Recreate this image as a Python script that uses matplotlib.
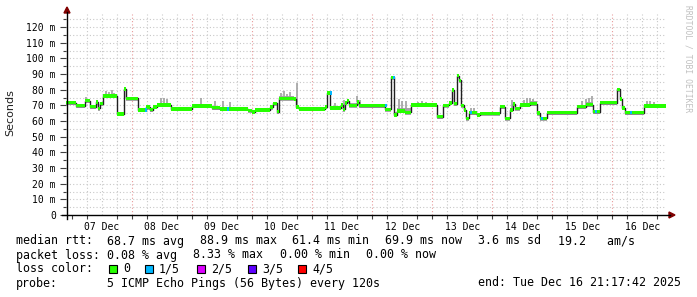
import numpy as np
import matplotlib
matplotlib.use("Agg")
import matplotlib.pyplot as plt
from matplotlib.lines import Line2D
from matplotlib.patches import Rectangle, Polygon

# ---------------- data (hours since 07 Dec 00:00) ----------------
START_H = -2.6
END_H = 237.3
seg_hours = [-2.4, 1.6, 5.2, 7.2, 9.6, 10.4, 11.2, 12.4, 18.0, 20.8, 21.6, 26.4,
             29.6, 31.2, 32.4, 34.0, 39.6, 48.0, 56.0, 59.2, 70.4, 72.0, 73.2,
             79.2, 80.4, 82.0, 82.8, 88.8, 89.6, 90.8, 101.2, 102.0, 103.2,
             107.6, 108.4, 109.2, 110.0, 110.8, 114.0, 114.8, 125.2, 127.6,
             128.8, 130.0, 133.2, 135.6, 146.0, 148.4, 150.8, 152.0, 152.8,
             154.0, 154.8, 155.6, 156.8, 157.6, 158.8, 162.0, 163.2, 171.2,
             173.2, 175.2, 176.4, 177.2, 179.2, 183.2, 186.0, 187.2, 190.0,
             202.0, 205.6, 208.4, 211.2, 218.0, 219.2, 220.0, 221.2, 228.8]
median_ms = [71.7, 69.8, 73.0, 69.2, 72.0, 68.0, 71.0, 76.0, 64.5, 80.5, 74.5, 67.0,
             68.8, 67.2, 69.0, 70.3, 67.8, 69.6, 68.6, 67.8, 66.8, 65.7, 67.0,
             68.8, 71.3, 66.0, 74.5, 74.0, 69.0, 67.6, 69.0, 78.0, 68.3,
             70.2, 67.5, 71.5, 73.0, 70.0, 72.0, 69.8, 67.5, 87.9,
             63.8, 66.5, 65.5, 70.2, 62.7, 70.0, 71.5, 79.8, 71.0,
             89.0, 86.0, 70.0, 67.0, 61.7, 65.3, 63.8, 64.9, 69.1,
             61.7, 67.0, 70.8, 68.0, 70.2, 71.0, 65.0, 61.7, 65.3,
             69.1, 70.5, 66.0, 71.7, 80.2, 74.0, 68.3, 65.3, 69.5]
smoke_max_ms = [72.5, 71.0, 74.0, 70.5, 73.0, 69.0, 72.0, 77.5, 65.5, 81.0, 75.5, 68.0,
                70.0, 68.5, 70.0, 71.5, 68.5, 70.5, 69.8, 68.5, 67.8, 66.8, 68.0,
                70.0, 72.0, 67.0, 76.0, 75.0, 70.0, 68.5, 70.0, 78.5, 69.5,
                71.5, 68.5, 72.5, 74.0, 71.5, 73.0, 70.8, 68.5, 88.5,
                66.0, 68.0, 68.0, 71.0, 63.5, 71.0, 72.5, 80.5, 72.0,
                89.5, 87.0, 71.0, 68.0, 62.5, 66.5, 65.0, 66.0, 70.0,
                62.5, 68.0, 72.0, 69.0, 71.5, 72.5, 66.0, 62.5, 66.3,
                70.2, 72.0, 67.0, 72.5, 80.5, 75.0, 69.0, 66.3, 71.0]
spike_hours = [5.6, 6.8, 13.6, 14.8, 16.0, 16.8, 17.6, 35.6, 36.8, 38.0, 51.6,
               57.2, 60.4, 63.2, 83.6, 84.8, 86.0, 87.2, 90.0, 105.2, 108.8,
               114.0, 115.2, 130.8, 132.0, 133.6, 138.4, 140.0, 141.6, 159.6,
               160.8, 176.0, 180.8, 182.0, 183.2, 184.4, 204.0, 205.6, 206.8,
               208.0, 230.0, 231.2, 232.8]
spike_top_ms = [75.5, 74.0, 79.0, 78.5, 80.0, 78.0, 77.5, 74.5, 75.0, 74.0, 75.0,
                72.5, 72.5, 72.0, 78.0, 79.0, 77.0, 78.5, 84.5, 71.5, 73.5,
                76.0, 73.5, 74.0, 72.5, 73.0, 72.0, 73.0, 72.0, 68.5,
                68.0, 73.5, 73.5, 74.5, 75.0, 74.0, 72.5, 74.0, 75.0,
                76.0, 72.5, 73.0, 72.0]
loss_1of5_hours = [29.0, 62.0, 103.0, 125.0, 128.4, 159.0, 187.6, 209.2, 223.2]

day_labels = ["07 Dec", "08 Dec", "09 Dec", "10 Dec", "11 Dec",
              "12 Dec", "13 Dec", "14 Dec", "15 Dec", "16 Dec"]
y_ticks = [0, 10, 20, 30, 40, 50, 60, 70, 80, 90, 100, 110, 120]
y_tick_labels = ["0"] + [f"{v} m" for v in y_ticks[1:]]

legend_labels = ["0", "1/5", "2/5", "3/5", "4/5"]
legend_colors = ["#26ff00", "#00b8ff", "#dd00ff", "#5e00ff", "#ff0000"]

# ---------------- figure ----------------
W, H = 697, 297
fig = plt.figure(figsize=(W / 100, H / 100), dpi=100)
fig.patch.set_facecolor("white")
MONO = "DejaVu Sans Mono"


def fx(px):
    return px / W


def fy(py):
    return 1 - py / H


ax = fig.add_axes([fx(65.5), fy(215), 600 / W, 201 / H])
ax.set_xlim(START_H, END_H)
ax.set_ylim(0, 128.3)
ax.set_facecolor("white")
for s in ax.spines.values():
    s.set_visible(False)

dots = (0, (1, 2))
for v in np.arange(5, 128, 5):
    ax.axhline(v, color="#c8c8c8", lw=0.8, ls=dots, zorder=0)
for h in np.arange(6, END_H, 6):
    if h % 24 == 0:
        ax.axvline(h, color="#e89a9a", lw=0.8, ls=dots, zorder=0.5)
    else:
        ax.axvline(h, color="#c8c8c8", lw=0.8, ls=dots, zorder=0)

t = np.append(np.array(seg_hours), END_H)
med = np.append(np.array(median_ms), median_ms[-1])
smk = np.append(np.array(smoke_max_ms), smoke_max_ms[-1])

ax.fill_between(t, med - 1.5, smk, step="post", color="#a6a6a6", lw=0, zorder=2)
sp_idx = np.searchsorted(t, np.array(spike_hours), side="right") - 1
ax.vlines(spike_hours, med[sp_idx], spike_top_ms, color="#a0a0a0", lw=1.2, zorder=2)
ax.step(t, med, where="post", color="#202020", lw=1.0, zorder=3)
ax.fill_between(t, med - 1.1, med + 1.1, step="post", color="#26ff00", lw=0, zorder=4)
for lh in loss_1of5_hours:
    i = np.searchsorted(t, lh, side="right") - 1
    ax.fill_between([lh, lh + 0.9], med[i] - 1.1, med[i] + 1.1, color="#00b8ff",
                    lw=0, zorder=5)

# ticks
ax.set_yticks(y_ticks)
ax.set_yticklabels(y_tick_labels, fontfamily=MONO, fontsize=7)
ax.set_yticks(np.arange(5, 128, 10), minor=True)
ax.tick_params(axis="y", which="major", length=4, width=0.8, pad=3, color="#404040")
ax.tick_params(axis="y", which="minor", length=2, width=0.8, color="#404040")
ax.set_xticks([12 + 24 * i for i in range(len(day_labels))])
ax.set_xticklabels(day_labels, fontfamily=MONO, fontsize=7)
ax.set_xticks(np.arange(0, END_H, 6), minor=True)
ax.tick_params(axis="x", which="major", length=0, pad=5)
ax.tick_params(axis="x", which="minor", length=3, width=0.8, color="#404040")

# axes lines with arrows
fig.add_artist(Line2D([fx(67), fx(67)], [fy(219), fy(12)], color="black", lw=1))
fig.add_artist(Line2D([fx(62), fx(670)], [fy(215), fy(215)], color="black", lw=1))
fig.add_artist(Polygon([[fx(64), fy(13)], [fx(70), fy(13)], [fx(67), fy(7)]],
                       closed=True, color="#800000"))
fig.add_artist(Polygon([[fx(669), fy(212)], [fx(669), fy(218)], [fx(675), fy(215)]],
                       closed=True, color="#800000"))

fig.text(fx(10), fy(113), "Seconds", rotation=90, ha="center", va="center",
         fontsize=8, fontfamily="DejaVu Sans", color="#202020")
fig.text(fx(688), fy(5), "RRDTOOL / TOBI OETIKER", rotation=-90, ha="center",
         va="top", fontsize=5.8, fontfamily=MONO, color="#c0c0c0")

FS = 8.4
line1 = [(16, "median rtt:"), (107, "68.7 ms avg"), (200, "88.9 ms max"),
         (292, "61.4 ms min"), (385, "69.9 ms now"), (478, "3.6 ms sd"),
         (558, "19.2   am/s")]
line2 = [(16, "packet loss:"), (107, "0.08 % avg"), (193, "8.33 % max"),
         (280, "0.00 % min"), (366, "0.00 % now")]
for x, s in line1:
    fig.text(fx(x), fy(241), s, ha="left", va="center", fontsize=FS,
             fontfamily=MONO, color="black")
for x, s in line2:
    fig.text(fx(x), fy(255), s, ha="left", va="center", fontsize=FS,
             fontfamily=MONO, color="black")
fig.text(fx(16), fy(269), "loss color:", ha="left", va="center", fontsize=FS,
         fontfamily=MONO, color="black")
box_x = [109, 145, 197, 248, 298]
for bx, lab, col in zip(box_x, legend_labels, legend_colors):
    fig.add_artist(Rectangle((fx(bx), fy(273)), 8 / W, 8 / H, facecolor=col,
                             edgecolor="black", lw=0.8))
    fig.text(fx(bx + 14), fy(269), lab, ha="left", va="center", fontsize=FS,
             fontfamily=MONO, color="black")
fig.text(fx(16), fy(283), "probe:", ha="left", va="center", fontsize=FS,
         fontfamily=MONO, color="black")
fig.text(fx(107), fy(283), "5 ICMP Echo Pings (56 Bytes) every 120s", ha="left",
         va="center", fontsize=FS, fontfamily=MONO, color="black")
fig.text(fx(681), fy(283), "end: Tue Dec 16 21:17:42 2025", ha="right",
         va="center", fontsize=FS, fontfamily=MONO, color="black")

fig.savefig("out.png", dpi=100, facecolor="white")
